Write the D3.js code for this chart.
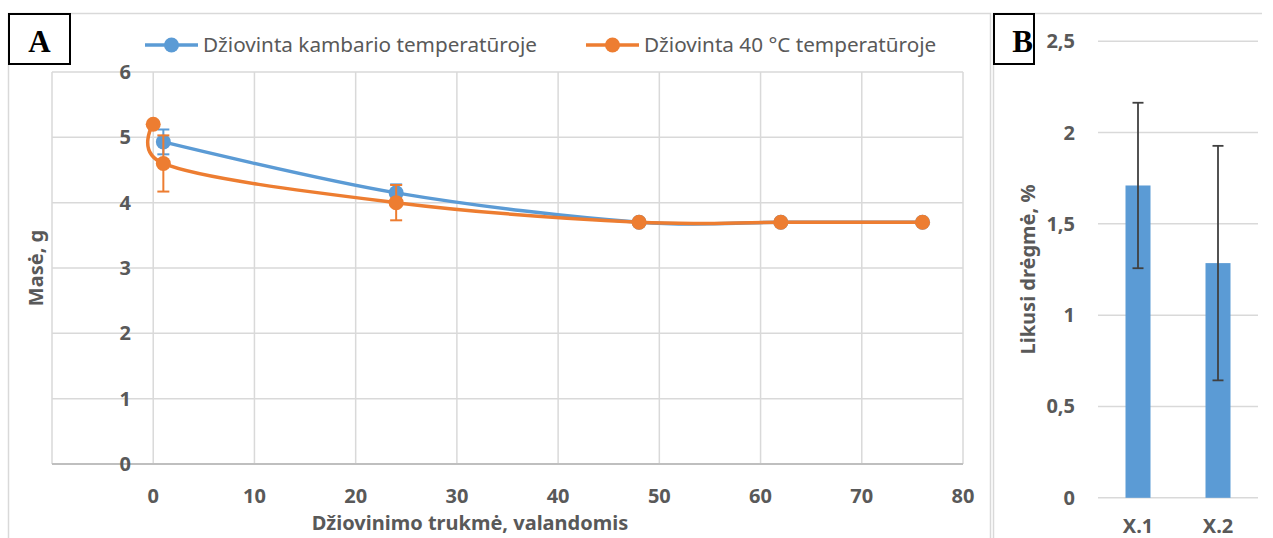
<!DOCTYPE html>
<html>
<head>
<meta charset="utf-8">
<script src="https://cdn.jsdelivr.net/npm/d3@7"></script>
<style>
  body { margin: 0; background: #fff; }
  text { font-family: "Noto Sans", "DejaVu Sans", sans-serif; fill: #595959; }
  .tick-label { font-size: 20px; font-weight: bold; }
  .axis-title { font-size: 20px; font-weight: bold; }
  .legend-label { font-size: 20.7px; }
  .panel-tag { font-family: "Liberation Serif", serif; font-size: 31px; font-weight: bold; fill: #000; }
</style>
</head>
<body>
<div id="chart"></div>
<script>
// --- chart A: mass vs drying time ---
const hoursRoom = [1, 24, 48, 62, 76];
const massRoom = [4.93, 4.15, 3.7, 3.7, 3.7];
const errRoom = [0.19, 0.13, 0, 0, 0];

const hours40 = [0, 1, 24, 48, 62, 76];
const mass40 = [5.2, 4.6, 4.0, 3.7, 3.7, 3.7];
const err40 = [0, 0.43, 0.27, 0, 0, 0];

const seriesNames = ['Džiovinta kambario temperatūroje', 'Džiovinta 40 °C temperatūroje'];
const xTicksA = [0, 10, 20, 30, 40, 50, 60, 70, 80];
const yTicksA = [0, 1, 2, 3, 4, 5, 6];

// --- chart B: residual moisture ---
const samples = ['X.1', 'X.2'];
const moisture = [1.71, 1.285];
const moistureErr = [0.453, 0.642];
const yTicksB = [0, 0.5, 1, 1.5, 2, 2.5];

const blue = '#5b9bd5', orange = '#ed7d31', grid = '#d9d9d9';

const svg = d3.select('#chart').append('svg')
    .attr('width', 1273)
    .attr('height', 538);

// frames
svg.append('rect')
    .attr('x', 8.5).attr('y', 13.5)
    .attr('width', 982).attr('height', 540)
    .attr('fill', 'none').attr('stroke', grid).attr('stroke-width', 1.5);
svg.append('path')
    .attr('d', 'M993.5,560V13.5H1262')
    .attr('fill', 'none').attr('stroke', grid).attr('stroke-width', 1.5);

// ---------- A ----------
const x = d3.scaleLinear().domain([-10, 80]).range([52, 963]);
const y = d3.scaleLinear().domain([0, 6]).range([464, 72]);

const gA = svg.append('g');

gA.append('g').selectAll('line')
    .data(d3.range(-10, 81, 10))
  .join('line')
    .attr('x1', d => x(d)).attr('x2', d => x(d))
    .attr('y1', y(6)).attr('y2', y(0))
    .attr('stroke', grid).attr('stroke-width', 1.5);

gA.append('g').selectAll('line')
    .data(yTicksA)
  .join('line')
    .attr('x1', x(-10)).attr('x2', x(80))
    .attr('y1', d => y(d)).attr('y2', d => y(d))
    .attr('stroke', d => d === 0 ? '#bfbfbf' : grid)
    .attr('stroke-width', d => d === 0 ? 2 : 1.5);

gA.append('g').selectAll('text')
    .data(yTicksA)
  .join('text')
    .attr('class', 'tick-label')
    .attr('x', 131)
    .attr('y', d => y(d))
    .attr('dy', '0.35em')
    .attr('text-anchor', 'end')
    .text(d => d);

gA.append('g').selectAll('text')
    .data(xTicksA)
  .join('text')
    .attr('class', 'tick-label')
    .attr('x', d => x(d))
    .attr('y', 503)
    .attr('text-anchor', 'middle')
    .text(d => d);

gA.append('text')
    .attr('class', 'axis-title')
    .attr('x', 470).attr('y', 530)
    .attr('text-anchor', 'middle')
    .text('Džiovinimo trukmė, valandomis');

gA.append('text')
    .attr('class', 'axis-title')
    .attr('transform', `translate(43,${(y(0) + y(6)) / 2}) rotate(-90)`)
    .attr('text-anchor', 'middle')
    .text('Masė, g');

const line = d3.line()
    .x(d => x(d.h))
    .y(d => y(d.m))
    .curve(d3.curveCatmullRom.alpha(0.15));

const series = [
  {color: blue, pts: hoursRoom.map((h, i) => ({h, m: massRoom[i], e: errRoom[i]}))},
  {color: orange, pts: hours40.map((h, i) => ({h, m: mass40[i], e: err40[i]}))}
];

series.forEach(s => {
  const g = gA.append('g');
  // error bars
  const eb = g.selectAll('g.err')
      .data(s.pts.filter(d => d.e > 0))
    .join('g').attr('class', 'err')
      .attr('stroke', s.color).attr('stroke-width', 2);
  eb.append('line')
      .attr('x1', d => x(d.h)).attr('x2', d => x(d.h))
      .attr('y1', d => y(d.m - d.e)).attr('y2', d => y(d.m + d.e));
  eb.append('line')
      .attr('x1', d => x(d.h) - 6).attr('x2', d => x(d.h) + 6)
      .attr('y1', d => y(d.m - d.e)).attr('y2', d => y(d.m - d.e));
  eb.append('line')
      .attr('x1', d => x(d.h) - 6).attr('x2', d => x(d.h) + 6)
      .attr('y1', d => y(d.m + d.e)).attr('y2', d => y(d.m + d.e));

  g.append('path')
      .datum(s.pts)
      .attr('d', line)
      .attr('fill', 'none')
      .attr('stroke', s.color)
      .attr('stroke-width', 3.5);

  g.selectAll('circle')
      .data(s.pts)
    .join('circle')
      .attr('cx', d => x(d.h)).attr('cy', d => y(d.m))
      .attr('r', 7.5)
      .attr('fill', s.color);
});

// legend
const legendX = [145, 586];
const legend = gA.append('g').selectAll('g')
    .data(seriesNames)
  .join('g')
    .attr('transform', (d, i) => `translate(${legendX[i]},45)`);
legend.append('line')
    .attr('x1', 0).attr('x2', 53)
    .attr('stroke', (d, i) => [blue, orange][i])
    .attr('stroke-width', 3.5);
legend.append('circle')
    .attr('cx', 26.5).attr('r', 7.5)
    .attr('fill', (d, i) => [blue, orange][i]);
legend.append('text')
    .attr('class', 'legend-label')
    .attr('x', 58)
    .attr('dy', '0.35em')
    .text(d => d);

// panel tag A
svg.append('rect')
    .attr('x', 9).attr('y', 14).attr('width', 61).attr('height', 50)
    .attr('fill', '#fff').attr('stroke', '#000').attr('stroke-width', 2);
svg.append('text')
    .attr('class', 'panel-tag')
    .attr('x', 39.5).attr('y', 52)
    .attr('text-anchor', 'middle')
    .text('A');

// ---------- B ----------
const xb = d3.scaleBand().domain(samples).range([1098, 1258]);
const yb = d3.scaleLinear().domain([0, 2.5]).range([497.8, 41.2]);
const fmt = d => d3.format('~g')(d).replace('.', ',');
const barW = 25;

const gB = svg.append('g');

gB.append('g').selectAll('line')
    .data(yTicksB)
  .join('line')
    .attr('x1', 1098).attr('x2', 1258)
    .attr('y1', d => yb(d)).attr('y2', d => yb(d))
    .attr('stroke', grid).attr('stroke-width', 1.5);

gB.append('g').selectAll('text')
    .data(yTicksB)
  .join('text')
    .attr('class', 'tick-label')
    .attr('x', 1075)
    .attr('y', d => yb(d))
    .attr('dy', '0.35em')
    .attr('text-anchor', 'end')
    .text(fmt);

gB.append('g').selectAll('rect')
    .data(samples)
  .join('rect')
    .attr('x', d => xb(d) + xb.bandwidth() / 2 - barW / 2)
    .attr('width', barW)
    .attr('y', (d, i) => yb(moisture[i]))
    .attr('height', (d, i) => yb(0) - yb(moisture[i]))
    .attr('fill', blue);

const ebB = gB.append('g').selectAll('g')
    .data(samples)
  .join('g')
    .attr('stroke', '#404040').attr('stroke-width', 1.8);
const cx = d => xb(d) + xb.bandwidth() / 2;
ebB.append('line')
    .attr('x1', cx).attr('x2', cx)
    .attr('y1', (d, i) => yb(moisture[i] - moistureErr[i]))
    .attr('y2', (d, i) => yb(moisture[i] + moistureErr[i]));
[-1, 1].forEach(sgn => {
  ebB.append('line')
      .attr('x1', d => cx(d) - 5.5).attr('x2', d => cx(d) + 5.5)
      .attr('y1', (d, i) => yb(moisture[i] + sgn * moistureErr[i]))
      .attr('y2', (d, i) => yb(moisture[i] + sgn * moistureErr[i]));
});

gB.append('g').selectAll('text')
    .data(samples)
  .join('text')
    .attr('class', 'tick-label')
    .attr('x', cx)
    .attr('y', 533)
    .attr('text-anchor', 'middle')
    .text(d => d);

gB.append('text')
    .attr('class', 'axis-title')
    .attr('transform', `translate(1035,${(yb(0) + yb(2.5)) / 2}) rotate(-90)`)
    .attr('text-anchor', 'middle')
    .text('Likusi drėgmė, %');

// panel tag B
svg.append('rect')
    .attr('x', 994).attr('y', 14).attr('width', 40).attr('height', 50)
    .attr('fill', '#fff').attr('stroke', '#000').attr('stroke-width', 2);
svg.append('text')
    .attr('class', 'panel-tag')
    .attr('x', 1033).attr('y', 52)
    .attr('text-anchor', 'end')
    .text('B');
</script>
</body>
</html>
